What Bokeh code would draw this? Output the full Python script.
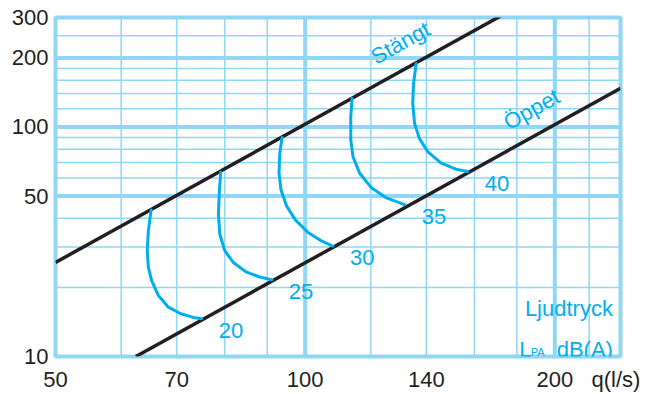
import numpy as np
from bokeh.plotting import figure
from bokeh.models import Range1d, FixedTicker, CustomJSTickFormatter, Span
from bokeh.embed import file_html
from bokeh.resources import INLINE
from bokeh.core.properties import value

# ---- data ----
x_ticks = [50, 70, 100, 140, 200, 237]
x_tick_labels = ["50", "70", "100", "140", "200", "q(l/s)"]
y_ticks = [10, 50, 100, 200, 300]
y_tick_labels = ["10", "50", "100", "200", "300"]

x_grid_minor = [60, 70, 80, 90, 120, 140, 160, 180, 220]
x_grid_major = [100, 200]
y_grid_minor = [20, 30, 40, 60, 70, 80, 90, 120, 140, 160, 180, 250]
y_grid_major = [50, 100, 200]

stangt_q = [50, 175]
stangt_p = [25.7, 315]
oppet_q = [62.5, 240]
oppet_p = [10, 147.5]

levels = ["20", "25", "30", "35", "40"]
curve20_q = [65.2, 64.7, 64.5, 64.7, 65.3, 66.5, 68.4, 70.7, 73.3, 75.0]
curve20_p = [43.5, 35.2, 28.9, 24.5, 21.4, 18.5, 16.4, 15.4, 14.8, 14.6]
curve25_q = [79.1, 78.8, 78.6, 78.9, 80.0, 81.9, 85.0, 88.2, 91.1]
curve25_p = [63.5, 52.4, 41.6, 34.1, 28.9, 25.7, 23.3, 22.2, 21.6]
curve30_q = [93.8, 93.2, 93.0, 93.5, 95.0, 97.2, 100.8, 104.6, 108.0]
curve30_p = [90.0, 76.9, 63.0, 53.3, 45.2, 39.6, 34.7, 31.9, 30.3]
curve35_q = [113.9, 113.5, 113.5, 114.2, 116.3, 120.2, 125.3, 131.8]
curve35_p = [133.0, 110.6, 87.7, 74.3, 63.0, 54.3, 49.1, 45.9]
curve40_q = [136.1, 135.1, 134.8, 135.5, 137.3, 140.5, 145.9, 152.0, 157.0]
curve40_p = [189.0, 154.1, 126.4, 103.5, 89.2, 78.1, 69.6, 65.5, 64.0]

curves_q = [curve20_q, curve25_q, curve30_q, curve35_q, curve40_q]
curves_p = [curve20_p, curve25_p, curve30_p, curve35_p, curve40_p]

# ---- style ----
GRID = "#8fd7f4"
BLUE = "#00aeef"
BLACK = "#231f20"
FONT = "Liberation Sans"

p = figure(width=652, height=394, x_axis_type="log", y_axis_type="log",
           x_range=Range1d(50, 240), y_range=Range1d(10, 300),
           output_backend="svg", toolbar_location=None,
           min_border_left=55, min_border_right=32, min_border_top=17,
           min_border_bottom=36)
p.grid.visible = False
p.background_fill_color = "white"
p.border_fill_color = "white"
p.outline_line_color = GRID
p.outline_line_width = 4
p.outline_line_alpha = 1.0

for ax in p.axis:
    ax.axis_line_color = None
    ax.major_tick_line_color = None
    ax.minor_tick_line_color = None
    ax.major_tick_out = 0
    ax.major_label_text_font = FONT
    ax.major_label_text_font_size = "22px"
    ax.major_label_text_color = BLACK

FMT = "const i = tvals.indexOf(tick); return i >= 0 ? tlabels[i] : '';"
p.xaxis.ticker = FixedTicker(ticks=x_ticks, minor_ticks=[])
p.xaxis.formatter = CustomJSTickFormatter(args=dict(tvals=x_ticks, tlabels=x_tick_labels), code=FMT)
p.xaxis.major_label_standoff = 10
p.yaxis.ticker = FixedTicker(ticks=y_ticks, minor_ticks=[])
p.yaxis.formatter = CustomJSTickFormatter(args=dict(tvals=y_ticks, tlabels=y_tick_labels), code=FMT)
p.yaxis.major_label_standoff = 7

for v in x_grid_minor:
    p.add_layout(Span(location=v, dimension="height", line_color=GRID, line_width=1.5, level="underlay"))
for v in x_grid_major:
    p.add_layout(Span(location=v, dimension="height", line_color=GRID, line_width=4, level="underlay"))
for v in y_grid_minor:
    p.add_layout(Span(location=v, dimension="width", line_color=GRID, line_width=1.5, level="underlay"))
for v in y_grid_major:
    p.add_layout(Span(location=v, dimension="width", line_color=GRID, line_width=4, level="underlay"))

p.line(stangt_q, stangt_p, line_color=BLACK, line_width=3.5)
p.line(oppet_q, oppet_p, line_color=BLACK, line_width=3.5)

for cq, cp in zip(curves_q, curves_p):
    p.line(cq, cp, line_color=BLUE, line_width=3, line_join="round", line_cap="round")

lab_x = [cq[-1] * 1.085 for cq in curves_q]
lab_y = [cp[-1] * 0.89 for cp in curves_p]
p.text(x=lab_x, y=lab_y, text=levels, text_font=value(FONT), text_font_size="22px",
       text_color=BLUE, text_align="center", text_baseline="middle")

ang = np.deg2rad(29.1)
p.text(x=[130.3], y=[232.5], text=["Stängt"], angle=ang, text_font=value(FONT),
       text_font_size="22px", text_color=BLUE, text_align="center", text_baseline="middle")
p.text(x=[187.5], y=[119.4], text=["Öppet"], angle=ang, text_font=value(FONT),
       text_font_size="22px", text_color=BLUE, text_align="center", text_baseline="middle")

p.text(x=[235], y=[16.2], text=["Ljudtryck"], text_font=value(FONT), text_font_size="22px",
       text_color=BLUE, text_align="right", text_baseline="alphabetic")
p.text(x=[235], y=[10.75], text=["dB(A)"], text_font=value(FONT), text_font_size="22px",
       text_color=BLUE, text_align="right", text_baseline="alphabetic")
p.text(x=[181.2], y=[10.75], text=["L"], text_font=value(FONT), text_font_size="22px",
       text_color=BLUE, text_align="left", text_baseline="alphabetic")
p.text(x=[187.1], y=[10.43], text=["PA"], text_font=value(FONT), text_font_size="11px",
       text_color=BLUE, text_align="left", text_baseline="alphabetic")

open("out.html", "w").write(file_html(p, INLINE))
